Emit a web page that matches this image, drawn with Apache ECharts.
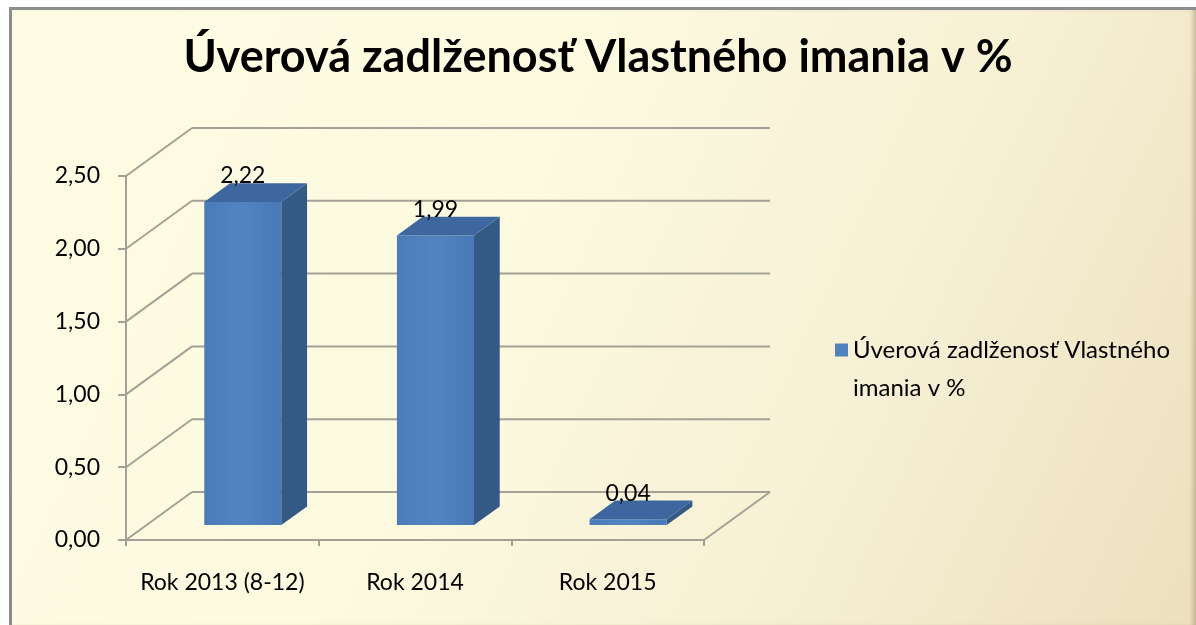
<!DOCTYPE html>
<html>
<head>
<meta charset="utf-8">
<script src="https://cdn.jsdelivr.net/npm/echarts@6/dist/echarts.min.js"></script>
<style>
    html, body { margin: 0; padding: 0; background: #fff; }
    #frame {
        position: absolute; left: 9px; top: 7px; width: 1187px; height: 618px;
        border-left: 3px solid #8d8d8d; border-top: 3px solid #8d8d8d;
        background: linear-gradient(115deg, #fefde4 0%, #fcfadf 40%, #f7f0d5 70%, #ecdfbd 100%);
        box-shadow: inset -5px 0 4px -2px rgba(120, 100, 60, 0.35);
        box-sizing: border-box;
    }
    #main { position: absolute; left: 0; top: 0; width: 1196px; height: 625px; }
</style>
</head>
<body>
<div id="frame"></div>
<div id="main"></div>
<script>
    // hodnoty z grafu
    var categories = ['Rok 2013 (8-12)', 'Rok 2014', 'Rok 2015'];
    var values = [2.22, 1.99, 0.04];
    var yTicks = [0, 0.5, 1, 1.5, 2, 2.5];
    var seriesName = 'Úverová zadlženosť Vlastného imania v %';

    // 3D posun zadnej steny
    var DX = 66, DY = -48;
    var lineColor = '#a3a196';
    var font = 'Lato, "Open Sans", sans-serif';

    function fmt(v) {
        return v.toFixed(2).replace('.', ',');
    }

    var myChart = echarts.init(document.getElementById('main'));
    myChart.setOption({
        backgroundColor: 'transparent',
        animation: false,
        title: {
            text: seriesName,
            left: 'center',
            top: 30,
            textStyle: {
                fontFamily: font,
                fontSize: 45,
                fontWeight: 'bold',
                color: '#000'
            }
        },
        legend: {
            data: [seriesName],
            left: 830,
            top: 288,
            icon: 'rect',
            itemWidth: 13,
            itemHeight: 13,
            itemStyle: {borderWidth: 0},
            // prazdny riadok hore, aby ikona stala pri prvom riadku
            formatter: function (name) {
                return '\n' + name.replace(' imania', '\nimania');
            },
            textStyle: {
                fontFamily: font,
                fontSize: 24,
                lineHeight: 38,
                color: '#000'
            }
        },
        grid: {
            left: 126,
            top: 176,
            width: 578,
            height: 364
        },
        xAxis: {
            type: 'category',
            data: categories,
            axisLine: {lineStyle: {color: lineColor, width: 2}},
            axisTick: {show: true, length: 6, lineStyle: {color: lineColor, width: 2}},
            axisLabel: {
                interval: 0,
                margin: 31,
                fontFamily: font,
                fontSize: 23,
                color: '#000'
            },
            splitLine: {show: false}
        },
        yAxis: {
            type: 'value',
            min: 0,
            max: 2.5,
            interval: 0.5,
            axisLine: {show: true, lineStyle: {color: lineColor, width: 2}},
            axisTick: {show: true, length: 8, lineStyle: {color: lineColor, width: 2}},
            axisLabel: {
                margin: 26,
                fontFamily: font,
                fontSize: 23,
                color: '#000',
                formatter: function (v) {
                    return fmt(v);
                }
            },
            splitLine: {show: false}
        },
        series: [
            {
                // steny a podlaha
                type: 'custom',
                silent: true,
                z: 1,
                data: yTicks.map(function (v) { return [0, v]; }),
                encode: {x: 0, y: 1},
                renderItem: function (params, api) {
                    var v = api.value(1);
                    var y = api.coord([0, v])[1];
                    var cs = params.coordSys;
                    var x0 = cs.x, x1 = cs.x + cs.width;
                    var style = {stroke: lineColor, lineWidth: 2, fill: null};
                    var children = [
                        {type: 'line', shape: {x1: x0, y1: y, x2: x0 + DX, y2: y + DY}, style: style},
                        {type: 'line', shape: {x1: x0 + DX, y1: y + DY, x2: x1 + DX, y2: y + DY}, style: style}
                    ];
                    if (v === 0) {
                        children.push({type: 'line', shape: {x1: x1, y1: y, x2: x1 + DX, y2: y + DY}, style: style});
                    }
                    return {type: 'group', children: children};
                }
            },
            {
                name: seriesName,
                type: 'custom',
                z: 3,
                itemStyle: {color: '#4f81bd'},
                data: values.map(function (v, i) { return [i, v]; }),
                encode: {x: 0, y: 1},
                renderItem: function (params, api) {
                    var i = api.value(0), v = api.value(1);
                    var top = api.coord([i, v]);
                    var base = api.coord([i, 0]);
                    var w = api.size([1, 0])[0] * 0.4;
                    var ox = DX * 0.31, oy = DY * 0.31;
                    var dx = DX * 0.39, dy = DY * 0.39;
                    var xl = top[0] + ox - w / 2, xr = top[0] + ox + w / 2;
                    var yt = top[1] + oy, yb = base[1] + oy;
                    return {
                        type: 'group',
                        children: [
                            {
                                type: 'rect',
                                shape: {x: xl, y: yt, width: w, height: yb - yt},
                                style: {
                                    fill: new echarts.graphic.LinearGradient(0, 0, 1, 0, [
                                        {offset: 0, color: '#4a7cba'},
                                        {offset: 0.5, color: '#5284c2'},
                                        {offset: 1, color: '#4979b6'}
                                    ])
                                }
                            },
                            {
                                type: 'polygon',
                                shape: {points: [[xr, yt], [xr + dx, yt + dy], [xr + dx, yb + dy], [xr, yb]]},
                                style: {fill: '#335984'}
                            },
                            {
                                type: 'polygon',
                                shape: {points: [[xl, yt], [xl + dx, yt + dy], [xr + dx, yt + dy], [xr, yt]]},
                                style: {fill: '#3e67a0'}
                            },
                            {
                                type: 'text',
                                style: {
                                    text: fmt(v),
                                    x: top[0] + ox,
                                    y: yt - 26,
                                    align: 'center',
                                    verticalAlign: 'middle',
                                    font: '23px ' + font,
                                    fill: '#000'
                                }
                            }
                        ]
                    };
                }
            }
        ]
    });
</script>
</body>
</html>
